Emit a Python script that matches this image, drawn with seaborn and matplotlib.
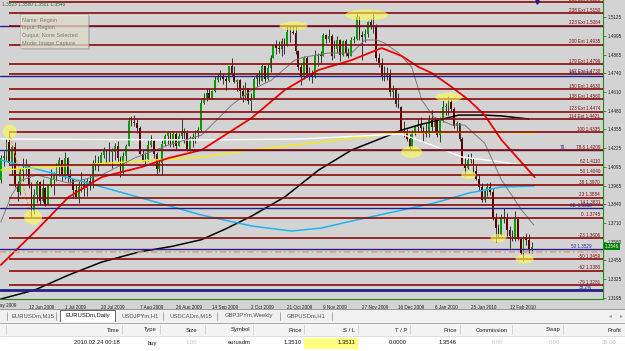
import matplotlib
matplotlib.use("Agg")
import matplotlib.pyplot as plt
import matplotlib.transforms as mtransforms
from matplotlib.patches import Rectangle, Ellipse
import seaborn as sns

# EURUSDm daily, 29 May 2009 .. 24 Feb 2010, in pips above 1.0000
opens = [4005, 4155, 4170, 4265, 4125, 4235, 3975, 3920, 4070, 4080, 4100, 3970, 3795, 3900, 3990, 3860,
         3950, 3830, 3970, 4015, 4030, 4095, 4140, 4035, 4155, 4030, 4010, 3935, 3890, 3960, 3980, 3950,
         4000, 3985, 4125, 4105, 4120, 4180, 4210, 4195, 4200, 4200, 4240, 4155, 4060, 4170, 4240, 4410,
         4405, 4400, 4365, 4185, 4140, 4150, 4245, 4270, 4185, 4080, 4120, 4250, 4305, 4330, 4255, 4320,
         4240, 4305, 4345, 4325, 4220, 4280, 4300, 4330, 4350, 4535, 4570, 4605, 4570, 4615, 4690, 4715,
         4715, 4700, 4685, 4785, 4735, 4680, 4690, 4615, 4585, 4635, 4550, 4570, 4700, 4725, 4685, 4785,
         4700, 4775, 4845, 4930, 4915, 4905, 4960, 4935, 5025, 5020, 5015, 4890, 4780, 4710, 4840, 4720,
         4730, 4710, 4860, 4865, 4860, 5000, 4975, 4995, 4855, 4905, 4970, 4865, 4960, 4880, 4860, 4965,
         4975, 5125, 5000, 4990, 5010, 5090, 5065, 5055, 4845, 4810, 4720, 4720, 4725, 4610, 4630, 4530,
         4510, 4340, 4335, 4285, 4235, 4335, 4370, 4385, 4365, 4325, 4320, 4415, 4370, 4410, 4315, 4410,
         4505, 4515, 4540, 4495, 4375, 4395, 4290, 4110, 4085, 4145, 4150, 4070, 4010, 3960, 3865, 3930,
         3960, 3920, 3745, 3675, 3630, 3750, 3740, 3660, 3620, 3600, 3740, 3600, 3505, 3610, 3590, 3523]
highs = [4177, 4205, 4295, 4338, 4245, 4265, 3995, 4090, 4155, 4150, 4110, 3990, 3945, 4005, 4000, 4010,
         3960, 3980, 4080, 4060, 4120, 4165, 4145, 4200, 4165, 4080, 4010, 3975, 3995, 4060, 4010, 4020,
         4040, 4140, 4175, 4170, 4195, 4235, 4220, 4265, 4225, 4260, 4270, 4170, 4200, 4255, 4440, 4445,
         4455, 4425, 4375, 4210, 4200, 4280, 4315, 4290, 4195, 4150, 4280, 4320, 4345, 4335, 4345, 4335,
         4330, 4425, 4365, 4350, 4305, 4330, 4350, 4370, 4560, 4600, 4640, 4640, 4625, 4720, 4735, 4760,
         4735, 4720, 4790, 4845, 4785, 4700, 4700, 4660, 4680, 4640, 4600, 4715, 4740, 4760, 4800, 4790,
         4800, 4865, 4935, 4965, 4960, 4980, 4980, 5060, 5060, 5065, 5060, 4900, 4800, 4860, 4855, 4780,
         4760, 4900, 4880, 4890, 5015, 5010, 5040, 5010, 4965, 4995, 4975, 4965, 4975, 4915, 4985, 4995,
         5145, 5135, 5030, 5045, 5100, 5120, 5145, 5080, 4880, 4845, 4785, 4780, 4765, 4660, 4640, 4600,
         4515, 4410, 4355, 4320, 4350, 4380, 4425, 4440, 4375, 4395, 4450, 4485, 4440, 4420, 4435, 4555,
         4535, 4580, 4560, 4505, 4410, 4400, 4300, 4155, 4185, 4190, 4155, 4105, 4045, 3985, 3935, 3985,
         3990, 3950, 3780, 3705, 3770, 3810, 3780, 3690, 3660, 3790, 3750, 3610, 3620, 3640, 3635, 3580]
lows = [3985, 4100, 4140, 4105, 4040, 3960, 3860, 3900, 4000, 4035, 3950, 3747, 3770, 3845, 3830, 3855,
        3825, 3830, 3955, 3900, 4000, 4030, 4000, 4015, 3990, 3985, 3880, 3880, 3850, 3920, 3895, 3895,
        3935, 3950, 4075, 4065, 4105, 4155, 4115, 4130, 4090, 4140, 4130, 4025, 4045, 4120, 4240, 4375,
        4375, 4330, 4185, 4135, 4115, 4135, 4230, 4155, 4045, 4060, 4040, 4240, 4255, 4230, 4230, 4215,
        4240, 4280, 4260, 4205, 4205, 4230, 4260, 4300, 4340, 4530, 4545, 4560, 4560, 4610, 4680, 4690,
        4665, 4625, 4680, 4720, 4670, 4620, 4570, 4540, 4555, 4530, 4480, 4560, 4650, 4665, 4685, 4680,
        4690, 4745, 4840, 4870, 4880, 4860, 4870, 4925, 4950, 5005, 4870, 4760, 4660, 4700, 4710, 4690,
        4670, 4705, 4785, 4800, 4860, 4945, 4955, 4830, 4840, 4880, 4825, 4855, 4860, 4840, 4855, 4945,
        4970, 4965, 4830, 4955, 4990, 5045, 5015, 4820, 4780, 4695, 4685, 4690, 4585, 4560, 4510, 4500,
        4320, 4300, 4270, 4220, 4230, 4315, 4340, 4345, 4265, 4300, 4300, 4345, 4340, 4300, 4265, 4405,
        4455, 4455, 4480, 4360, 4345, 4275, 4105, 4030, 4080, 4120, 4055, 4005, 3935, 3855, 3855, 3895,
        3900, 3730, 3580, 3610, 3620, 3710, 3620, 3535, 3585, 3585, 3590, 3495, 3445, 3555, 3500, 3501]
closes = [4155, 4170, 4265, 4125, 4235, 3975, 3920, 4070, 4080, 4100, 3970, 3795, 3900, 3990, 3860, 3950,
          3830, 3970, 4015, 4030, 4095, 4140, 4035, 4155, 4030, 4010, 3935, 3890, 3960, 3980, 3950, 4000,
          3985, 4125, 4105, 4120, 4180, 4210, 4195, 4200, 4200, 4240, 4155, 4060, 4170, 4240, 4410, 4405,
          4400, 4365, 4185, 4140, 4150, 4245, 4270, 4185, 4080, 4120, 4250, 4305, 4330, 4255, 4320, 4240,
          4305, 4345, 4325, 4220, 4280, 4300, 4330, 4350, 4535, 4570, 4605, 4570, 4615, 4690, 4715, 4715,
          4700, 4685, 4785, 4735, 4680, 4690, 4615, 4585, 4635, 4550, 4570, 4700, 4725, 4685, 4785, 4700,
          4775, 4845, 4930, 4915, 4905, 4960, 4935, 5025, 5020, 5015, 4890, 4780, 4710, 4840, 4720, 4730,
          4710, 4860, 4865, 4860, 5000, 4975, 4995, 4855, 4905, 4970, 4865, 4960, 4880, 4860, 4965, 4975,
          5125, 5000, 4990, 5010, 5090, 5065, 5055, 4845, 4810, 4720, 4720, 4725, 4610, 4630, 4530, 4510,
          4340, 4335, 4285, 4235, 4335, 4370, 4385, 4365, 4325, 4320, 4415, 4370, 4410, 4315, 4410, 4505,
          4515, 4540, 4495, 4375, 4395, 4290, 4110, 4085, 4145, 4150, 4070, 4010, 3960, 3865, 3930, 3960,
          3920, 3745, 3675, 3630, 3750, 3740, 3660, 3620, 3600, 3740, 3600, 3505, 3610, 3590, 3523, 3546]

# indicator lines: (bar index, price)
red_x = [0, 12.9, 24.4, 36.3, 50.6, 60.4, 72.2, 90.2, 102.1, 114.3, 126.2, 137, 144.2, 150.3, 155,
         162.2, 168.3, 174, 180.1, 192]
red_y = [1.3421, 1.3661, 1.3888, 1.4025, 1.4094, 1.4156, 1.4211, 1.4431, 1.4623, 1.4761, 1.4829,
         1.4912, 1.4857, 1.4781, 1.4740, 1.4644, 1.4555, 1.4451, 1.4280, 1.4025]
gray_x = [0, 3.9, 7.5, 12.9, 24.4, 36.3, 48.1, 60.4, 72.2, 83, 90.2, 97.4, 105.7, 109.3, 117.9, 126.2,
          130.9, 135.2, 138, 143.1, 147.8, 151.4, 155.7, 162.2, 166.8, 174, 180.1, 187.3, 191.7]
gray_y = [1.3716, 1.3902, 1.4005, 1.4039, 1.3984, 1.4039, 1.4156, 1.4245, 1.4314, 1.4520, 1.4623,
          1.4692, 1.4829, 1.4850, 1.4878, 1.4878, 1.4967, 1.4967, 1.4946, 1.4878, 1.4781, 1.4555,
          1.4438, 1.4383, 1.4383, 1.4259, 1.4005, 1.3799, 1.3695]
black_x = [0, 12.2, 24.4, 36.3, 49.6, 61.4, 72.2, 81, 90.2, 102.1, 114.3, 126.2, 138, 144.2, 150.3,
           157.5, 164.7, 174, 180.1, 189.9]
black_y = [1.3187, 1.3249, 1.3352, 1.3441, 1.3510, 1.3548, 1.3595, 1.3670, 1.3757, 1.3888, 1.4073,
           1.4211, 1.4300, 1.4348, 1.4383, 1.4417, 1.4451, 1.4451, 1.4445, 1.4424]
cyan_x = [0, 18.3, 36.3, 50.6, 72.2, 90.2, 104.6, 115.4, 126.2, 144.2, 156, 168.3, 180.1, 192]
cyan_y = [1.4142, 1.4053, 1.3957, 1.3881, 1.3764, 1.3689, 1.3654, 1.3675, 1.3723, 1.3798, 1.3847,
          1.3915, 1.3957, 1.3964]
yellow_x = [0, 72.2, 90.2, 143, 180.1, 192]
yellow_y = [1.4073, 1.4163, 1.4211, 1.4328, 1.4335, 1.4328]
white_x = [0, 72.2, 108, 144.2, 155, 165.8, 180.1, 187.3]
white_y = [1.4287, 1.4280, 1.4287, 1.4321, 1.4245, 1.4163, 1.4129, 1.4108]

# fibonacci levels (red) and the second set (blue)
fib_names = ["250 Ext", "238 Ext", "223 Ext", "200 Ext", "179 Ext", "167 Ext", "150 Ext", "138 Ext",
             "123 Ext", "114 Ext", "100", "78.6", "62", "50", "38", "23", "14", "0.", "-23", "-50",
             "-62", "-79"]
fib_prices = [1.5226, 1.5150, 1.5064, 1.4935, 1.4799, 1.4730, 1.4630, 1.4560, 1.4474, 1.4421, 1.4335,
              1.4209, 1.4110, 1.4040, 1.3970, 1.3884, 1.3831, 1.3745, 1.3606, 1.3459, 1.3380, 1.3281]
blue_labels = ["", "100 1.4718", "79.", "62. 1.3810", "50 1.3529", "38.2%"]
blue_prices = [1.5064, 1.4718, 1.4209, 1.3810, 1.3529, 1.3248]
swing_x = [3, 11]
swing_y = [1.4338, 1.3747]
stop_loss = 1.3511
last_price = 1.3546

# highlighted spots (bar index, price)
spot_x = [3.2, 11.6, 105.3, 131.6, 161.1, 147.8, 168.3, 179, 188.4]
spot_y = [1.4338, 1.3750, 1.5063, 1.5139, 1.4575, 1.4197, 1.4039, 1.3606, 1.3462]

price_ticks = [1.5125, 1.4995, 1.4865, 1.4740, 1.4610, 1.4480, 1.4355, 1.4225, 1.4095, 1.3965,
               1.3840, 1.3710, 1.3580, 1.3455, 1.3325, 1.3195]
date_ticks = [10, 23, 36, 50, 63, 76, 90, 103, 116, 130, 143, 156, 169, 183]
date_labels = ["12 Jun 2009", "1 Jul 2009", "20 Jul 2009", "7 Aug 2009", "26 Aug 2009", "14 Sep 2009",
               "2 Oct 2009", "21 Oct 2009", "9 Nov 2009", "27 Nov 2009", "16 Dec 2009", "6 Jan 2010",
               "25 Jan 2010", "12 Feb 2010"]

tabs = ["EURUSDm,M15", "EURUSDm,Daily", "USDJPYm,H1", "USDCADm,M15", "GBPJPYm,Weekly", "GBPUSDm,H1"]
columns = ["Time", "Type", "Size", "Symbol", "Price", "S / L", "T / P", "Price", "Commission", "Swap", "Profit"]
row = ["2010.02.24 00:18", "buy", "1.00", "eurusdm", "1.3510", "1.3511", "0.0000", "1.3546", "0.00", "0.00", "36.00"]

sns.set_style("white")
plt.rcParams['font.family'] = ['Liberation Sans', 'DejaVu Sans']

BG = '#D3D3D3'
AXIS_GREEN = '#1f8a1f'
W, H = 625, 351
CW, CH = 603, 299
fig = plt.figure(figsize=(W / 100, H / 100), dpi=100)
fig.patch.set_facecolor(BG)
ax = fig.add_axes([0, 1 - CH / H, CW / W, CH / H])
ax.set_facecolor(BG)
XLIM = (-0.3, 216.6)
YLIM = (1.3187, 1.5242)
bar_per_px = (XLIM[1] - XLIM[0]) / CW
price_per_px = (YLIM[1] - YLIM[0]) / CH

# candles
o = [1 + v / 1e4 for v in opens]
h = [1 + v / 1e4 for v in highs]
l = [1 + v / 1e4 for v in lows]
c = [1 + v / 1e4 for v in closes]
bars = list(range(len(c)))
ax.vlines(bars, l, h, colors='#1c1c1c', lw=0.6, zorder=2)
body_low = [min(a, b) for a, b in zip(o, c)]
body_h = [max(abs(b - a), 0.00012) for a, b in zip(o, c)]
body_col = ['#00A000' if b >= a else '#5a0000' for a, b in zip(o, c)]
ax.bar(bars, body_h, bottom=body_low, width=0.62, color=body_col, lw=0, zorder=2.5)

# moving averages
sns.lineplot(x=black_x, y=black_y, ax=ax, color='black', lw=1.1, zorder=3, sort=False)
sns.lineplot(x=cyan_x, y=cyan_y, ax=ax, color='#1EB4F0', lw=1.1, zorder=3, sort=False)
sns.lineplot(x=yellow_x, y=yellow_y, ax=ax, color='#F5F000', lw=1.0, zorder=3, sort=False)
sns.lineplot(x=white_x, y=white_y, ax=ax, color='white', lw=1.0, zorder=3, sort=False)
sns.lineplot(x=gray_x, y=gray_y, ax=ax, color='#7a7a7a', lw=0.7, zorder=3.2, sort=False)
sns.lineplot(x=red_x, y=red_y, ax=ax, color='#F00000', lw=1.3, zorder=3.3, sort=False)
ax.plot(swing_x, swing_y, ls=(0, (3, 2)), color='#FF8C00', lw=0.7, zorder=3.4)

# horizontal levels
label_tr = mtransforms.blended_transform_factory(ax.transAxes, ax.transData)
for lab, p in zip(blue_labels, blue_prices):
    lw = 2.0 if lab == "38.2%" else 1.0
    ax.axhline(p, color='#22228a', lw=lw, zorder=3.5)
    if lab:
        right = 566 if lab == "79." else 592
        ax.text(right / CW, p + 0.0003, lab, transform=label_tr, ha='right', va='bottom',
                fontsize=3.3, color='#2a2a9a', zorder=5)
for name, p in zip(fib_names, fib_prices):
    ax.hlines(p, 3, XLIM[1], colors='#8B0A0A', lw=1.2, zorder=3.6)
    ax.text(600 / CW, p + 0.0003, f"{name} {p:.4f}", transform=label_tr, ha='right', va='bottom',
            fontsize=3.3, color='#7a0c0c', zorder=5)
ax.axhline(stop_loss, color='#E9967A', lw=1.1, ls=(0, (4, 2, 1, 2)), zorder=3.7)

# highlight spots (sizes in pixels)
spot_w = [14, 18, 28, 43, 27, 21, 15, 16, 18]
spot_h = [14, 15, 9, 11, 9, 12, 8, 8, 9]
for sx, sy, sw, sh in zip(spot_x, spot_y, spot_w, spot_h):
    ax.add_patch(Ellipse((sx, sy), sw * bar_per_px, sh * price_per_px, fc='#FFFF50',
                         ec='none', alpha=0.6, zorder=6))

ax.set_xlim(*XLIM)
ax.set_ylim(*YLIM)

# axes like the terminal
for side in ['left', 'top']:
    ax.spines[side].set_visible(False)
for side in ['right', 'bottom']:
    ax.spines[side].set_color(AXIS_GREEN)
    ax.spines[side].set_linewidth(0.8)
ax.yaxis.tick_right()
ax.set_yticks(price_ticks)
ax.set_yticklabels([f"{p:.4f}" for p in price_ticks])
ax.set_xticks(date_ticks)
ax.set_xticklabels(date_labels)
for t in ax.get_xticklabels():
    t.set_horizontalalignment('left')
ax.tick_params(axis='y', direction='out', length=2, width=0.6, colors=AXIS_GREEN,
               labelcolor='#202020', labelsize=3.3, pad=1.5)
ax.tick_params(axis='x', direction='out', length=2.5, width=0.6, colors=AXIS_GREEN,
               labelcolor='#202020', labelsize=3.3, pad=1.5)
ax.set_xlabel('')
ax.set_ylabel('')
ax.text(1.003, last_price, f"{last_price:.4f}", transform=label_tr, ha='left', va='center',
        fontsize=3.3, color='white', zorder=7, clip_on=False,
        bbox=dict(boxstyle='square,pad=0.2', fc='#008000', ec='none'))

# window chrome in pixel coordinates
ui = fig.add_axes([0, 0, 1, 1], zorder=5)
ui.set_xlim(0, W)
ui.set_ylim(H, 0)
ui.axis('off')
ui.patch.set_alpha(0)

ui.text(-4, 305, "May 2009", fontsize=3.3, color='#202020', ha='left', va='center')
ui.text(2, 5, "1.3523 1.3580 1.3501 1.3546", fontsize=3.4, color='#2e6a2e', ha='left', va='center')
ui.plot([537], [1.5], marker='v', ms=2.5, color='#1a1a8a', clip_on=False)

# tooltip
ui.add_patch(Rectangle((22, 16), 68, 34, fc='#909090', ec='none', alpha=0.4))
ui.add_patch(Rectangle((20, 14), 68, 34, fc='#F4F0D8', ec='#9a9a9a', lw=0.5, alpha=0.6))
for i, s in enumerate(["Name: Region", "Input: Region", "Output: None Selected", "Mode: Image Capture"]):
    ui.text(22, 20.5 + i * 7.5, s, fontsize=4.0, color='#7a7a7a', ha='left', va='center')

# tab bar
ui.add_patch(Rectangle((0, 309), W, 13, fc='#F0F0F0', ec='none'))
ui.plot([0, W], [309, 309], color='#8a8a8a', lw=0.6)
ui.add_patch(Rectangle((60, 309.5), 55, 12.5, fc='white', ec='#505050', lw=0.6))
tab_x = [12, 66, 122, 170, 225, 287]
for s, x in zip(tabs, tab_x):
    ui.text(x, 316, s, fontsize=4.2, color='#505050' if s != "EURUSDm,Daily" else '#101010',
            ha='left', va='center')
for x in [7, 56, 163, 217, 280, 332]:
    ui.plot([x, x], [312, 320], color='#8a8a8a', lw=0.5)
ui.text(610, 316, "\u25c2", fontsize=4, color='#909090', ha='center', va='center',
        family=['DejaVu Sans'])
ui.text(621, 316, "\u25b8", fontsize=4, color='#909090', ha='center', va='center',
        family=['DejaVu Sans'])

# order table
ui.add_patch(Rectangle((0, 322), W, 14, fc='#F4F4F4', ec='none'))
ui.add_patch(Rectangle((0, 336), W, 15, fc='white', ec='none'))
ui.plot([0, W], [322.5, 322.5], color='#9a9a9a', lw=0.6)
ui.plot([0, W], [336, 336], color='#d8d8d8', lw=0.6)
for x in [6, 122, 160, 205, 253, 304, 358, 410, 460, 512, 563]:
    ui.plot([x, x], [325, 334], color='#c8c8c8', lw=0.5)
ui.add_patch(Rectangle((304, 337.5), 54, 11, fc='#FFFF80', ec='none'))
col_right = [120, 157, 197, 250, 302, 355, 407, 457, 508, 560, 621]
blurred = {2, 8, 9, 10}
for i, (head, val, x) in enumerate(zip(columns, row, col_right)):
    ui.text(x, 330, head, fontsize=4.2, color='#202020', ha='right', va='center')
    ui.text(x - (5 if i in (8, 10) else 0), 343, val, fontsize=4.2,
            color='#c4c4c4' if i in blurred else '#101010', ha='right', va='center')

fig.savefig("out.png", dpi=100, facecolor=fig.get_facecolor())
